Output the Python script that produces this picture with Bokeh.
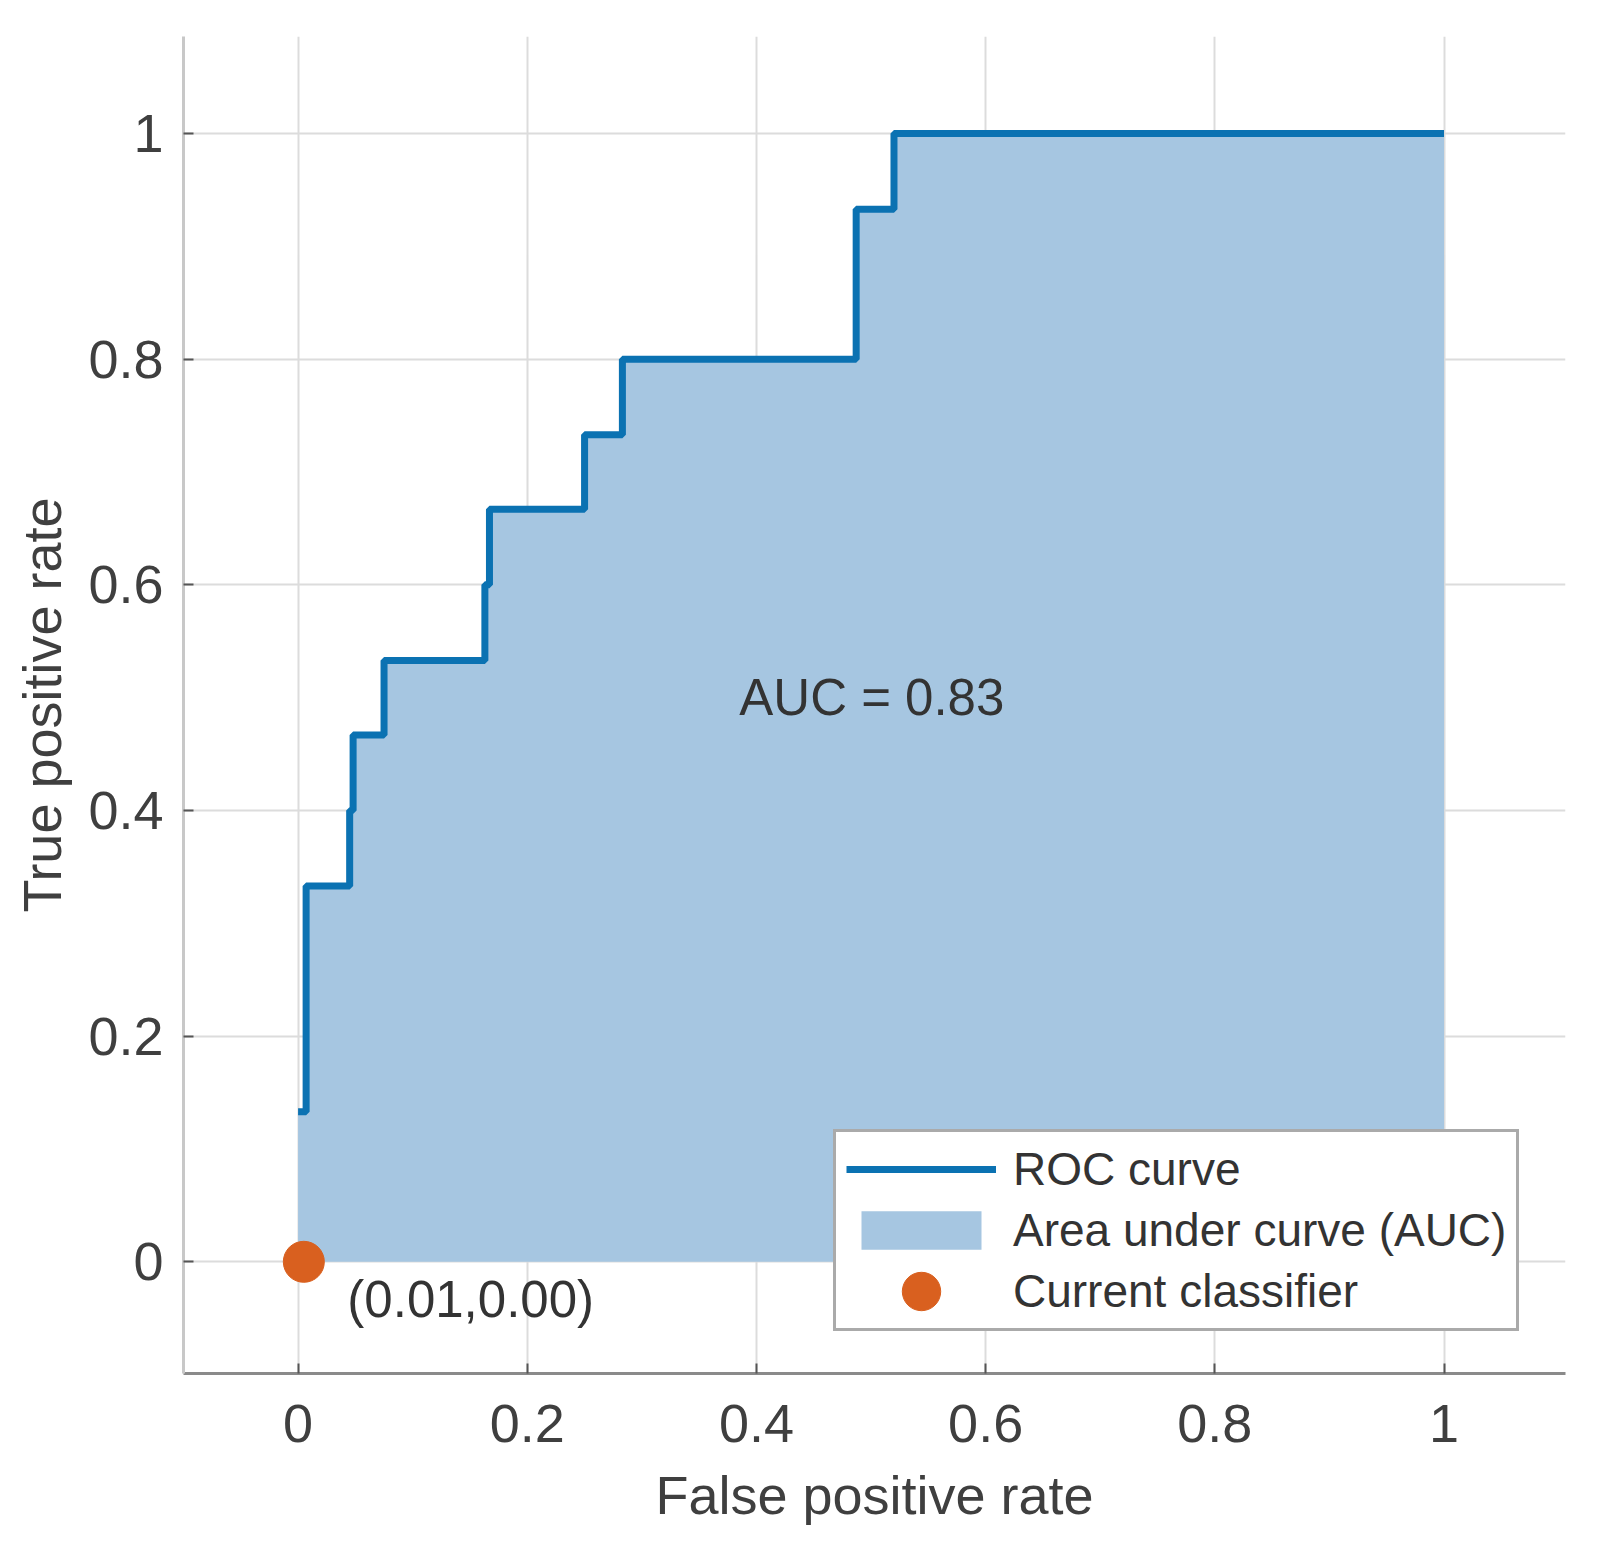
from bokeh.plotting import figure
from bokeh.models import FixedTicker, Legend, LegendItem, Label
from bokeh.embed import file_html
from bokeh.resources import INLINE

# ROC curve points (false positive rate, true positive rate)
fpr = [0.0, 0.0, 0.007, 0.007, 0.045, 0.045, 0.048, 0.048, 0.075, 0.075,
       0.163, 0.163, 0.167, 0.167, 0.25, 0.25, 0.283, 0.283, 0.487, 0.487,
       0.52, 0.52, 1.0, 1.0]
tpr = [0.0, 0.133, 0.133, 0.333, 0.333, 0.4, 0.4, 0.467, 0.467, 0.533,
       0.533, 0.6, 0.6, 0.667, 0.667, 0.733, 0.733, 0.8, 0.8, 0.933,
       0.933, 1.0, 1.0, 0.0]
base = [0.0] * len(fpr)

# current classifier operating point
clf_x = [0.005]
clf_y = [0.0]
clf_label = "(0.01,0.00)"
auc_text = "AUC = 0.83"

ticks = [0, 0.2, 0.4, 0.6, 0.8, 1]
tick_labels = {0: "0", 0.2: "0.2", 0.4: "0.4", 0.6: "0.6", 0.8: "0.8", 1: "1"}

FONT = "Liberation Sans"
TXT = "#3f3f3f"

p = figure(width=1581, height=1540, output_backend="svg", toolbar_location=None,
           x_range=(-0.1, 1.106), y_range=(-0.099, 1.086),
           min_border_left=183, min_border_right=16, min_border_top=36,
           min_border_bottom=167)
p.outline_line_color = None
p.background_fill_color = "white"

# fill under curve
area = p.varea(x=fpr, y1=base, y2=tpr, fill_color="#A6C6E1", fill_alpha=1.0)
# curve line (skip the hidden first segment on the axis and the closing drop)
line = p.line(x=fpr[1:-1], y=tpr[1:-1], line_color="#0B72B2", line_width=7)
# classifier point
dot = p.ellipse(x=clf_x, y=clf_y, width=41, height=41, width_units="screen",
                height_units="screen", fill_color="#D9601F", line_color="#D9601F")

p.add_layout(Label(x=0.385, y=0.5, text=auc_text, text_font=FONT,
                   text_font_size="51px", text_color="#333333",
                   text_baseline="middle", text_align="left"))
p.add_layout(Label(x=0.043, y=-0.033, text=clf_label, text_font=FONT,
                   text_font_size="51px", text_color="#333333",
                   text_baseline="middle", text_align="left"))

# axes
for ax in (p.xaxis[0], p.yaxis[0]):
    ax.ticker = FixedTicker(ticks=ticks)
    ax.major_label_overrides = tick_labels
    ax.major_label_text_font = FONT
    ax.major_label_text_font_size = "54px"
    ax.major_label_text_color = TXT
    ax.axis_label_text_font = FONT
    ax.axis_label_text_font_size = "54px"
    ax.axis_label_text_font_style = "normal"
    ax.axis_label_text_color = TXT
    ax.major_tick_in = 10
    ax.major_tick_out = 0
    ax.minor_tick_line_color = None
    ax.axis_line_width = 3
    ax.major_tick_line_color = "#555555"
    ax.major_tick_line_width = 2

p.xaxis[0].axis_label = "False positive rate"
p.yaxis[0].axis_label = "True positive rate"
p.xaxis[0].axis_line_color = "#8a8a8a"
p.yaxis[0].axis_line_color = "#c8c8c8"
p.xaxis[0].major_label_standoff = 31
p.yaxis[0].major_label_standoff = 20
p.xaxis[0].axis_label_standoff = 20
p.yaxis[0].axis_label_standoff = 13

p.grid.grid_line_color = "#dcdcdc"
p.grid.grid_line_width = 2
p.grid.ticker = FixedTicker(ticks=ticks)

legend = Legend(items=[LegendItem(label="ROC curve", renderers=[line]),
                       LegendItem(label="Area under curve (AUC)", renderers=[area]),
                       LegendItem(label="Current classifier", renderers=[dot])],
                location=(650, 42))
legend.label_text_font = FONT
legend.label_text_font_size = "46px"
legend.label_text_color = "#333333"
legend.glyph_width = 150
legend.glyph_height = 48
legend.label_height = 50
legend.spacing = 7
legend.padding = 10
legend.margin = 0
legend.label_standoff = 17
legend.border_line_color = "#555555"
legend.border_line_width = 3
legend.background_fill_color = "white"
legend.background_fill_alpha = 1.0
p.add_layout(legend)

open("out.html", "w").write(file_html(p, INLINE))
